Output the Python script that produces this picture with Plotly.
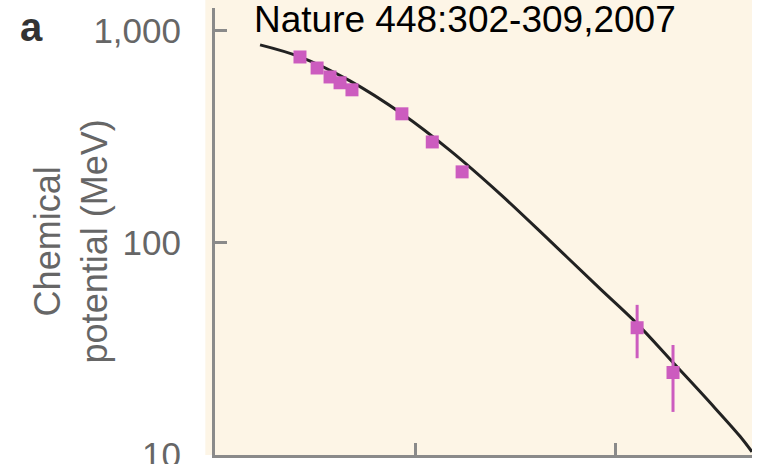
import plotly.graph_objects as go

# Collision energy sqrt(s_NN) in GeV and baryon chemical potential in MeV
energy_gev = [2.66, 3.24, 3.76, 4.22, 4.84, 8.6, 12.2, 17.2, 129, 195]
mu_b_mev = [753, 668, 606, 569, 527, 406, 299, 216, 39.7, 24.4]
mu_b_err = [0, 0, 0, 0, 0, 0, 0, 0, 11.2, 8.5]

# Smooth freeze-out curve
curve_energy = [1.68, 2.66, 4.73, 8.61, 15.0, 26.6, 47.3, 84.1, 128.8, 195, 298.5, 421.7, 484]
curve_mu = [859, 754, 581, 406, 272, 170, 102, 60.7, 41.5, 27.2, 17.6, 12.2, 10.3]

y_ticks = [10, 100, 1000]
y_tick_text = ["10", "100", "1,000"]
x_ticks = [10, 100]

axis_grey = "#8a8a8a"
text_grey = "#666666"
cream = "#fdf5e6"
magenta = "#cc5cbf"
font_family = "Liberation Sans, Arial, sans-serif"

fig = go.Figure()

fig.add_trace(go.Scatter(
    x=curve_energy, y=curve_mu, mode="lines",
    line=dict(color="#222222", width=3, shape="spline", smoothing=1.0),
    hoverinfo="skip", showlegend=False,
))

fig.add_trace(go.Scatter(
    x=energy_gev, y=mu_b_mev, mode="markers",
    marker=dict(symbol="square", size=13, color=magenta, line=dict(width=0)),
    error_y=dict(type="data", array=mu_b_err, visible=True,
                 color=magenta, thickness=3, width=0),
    showlegend=False,
))

fig.update_layout(
    width=762, height=464,
    margin=dict(l=215, r=10, t=8, b=9, autoexpand=False),
    paper_bgcolor="white",
    plot_bgcolor=cream,
    xaxis=dict(
        type="log", range=[0, 2.685], automargin=False,
        tickvals=x_ticks, showticklabels=False,
        ticks="inside", ticklen=12, tickwidth=2.5, tickcolor=axis_grey,
        showline=True, linecolor=axis_grey, linewidth=3,
        showgrid=False, zeroline=False,
    ),
    yaxis=dict(
        type="log", range=[0.998, 3.108], automargin=False,
        tickvals=y_ticks, ticktext=y_tick_text,
        ticks="inside", ticklen=12, tickwidth=2.5, tickcolor=axis_grey,
        ticklabelstandoff=24, ticklabeloverflow="allow",
        tickfont=dict(family=font_family, size=35, color=text_grey),
        showline=True, linecolor=axis_grey, linewidth=3,
        showgrid=False, zeroline=False,
    ),
    shapes=[
        # cream panel extends a little past the axes
        dict(type="rect", xref="paper", yref="paper", layer="below",
             x0=-0.018, x1=1.0, y0=0, y1=1.02,
             fillcolor=cream, line=dict(width=0)),
    ],
    annotations=[
        dict(text="Chemical<br>potential (MeV)", textangle=-90,
             xref="paper", yref="paper", x=-0.268, y=0.478,
             xanchor="center", yanchor="middle", showarrow=False,
             font=dict(family=font_family, size=36, color=text_grey)),
        dict(text="<b>a</b>", xref="paper", yref="paper",
             x=(18 - 215) / 537, y=(455 - 27) / 447,
             xanchor="left", yanchor="middle", showarrow=False,
             font=dict(family=font_family, size=40, color="#333333")),
        dict(text="Nature 448:302-309,2007", xref="paper", yref="paper",
             x=(252 - 215) / 537, y=(455 - 19) / 447,
             xanchor="left", yanchor="middle", showarrow=False,
             font=dict(family=font_family, size=37, color="black")),
    ],
)

fig.write_html("out.html")
